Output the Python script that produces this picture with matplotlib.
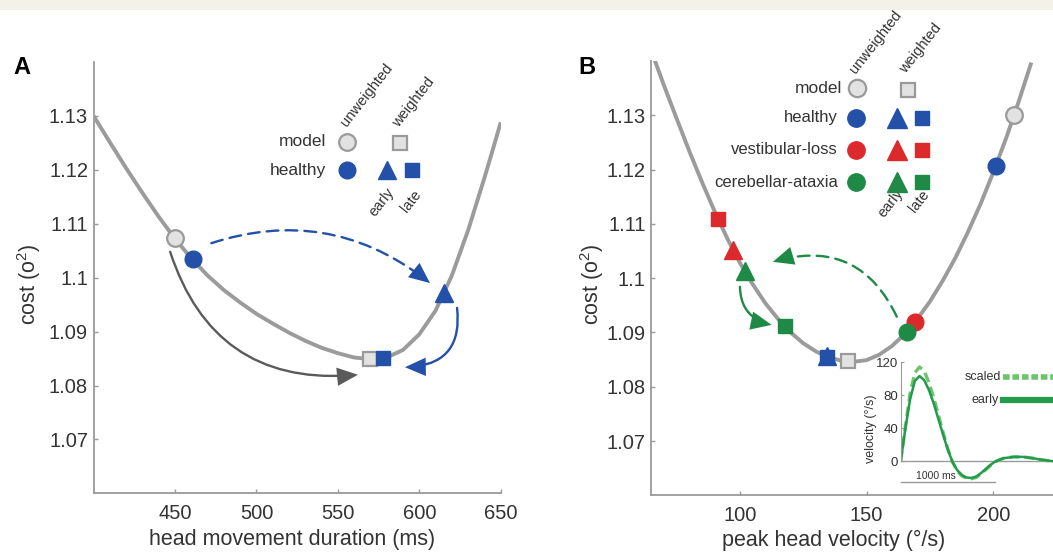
"""Cost curves for head movement duration and peak head velocity"""

import matplotlib
matplotlib.use("Agg")
import matplotlib.pyplot as plt
from matplotlib.patches import Rectangle

plt.rcParams["font.family"] = ["Liberation Sans", "DejaVu Sans"]
plt.rcParams["mathtext.fontset"] = "custom"
plt.rcParams["mathtext.rm"] = "Liberation Sans"

# panel A: model cost against head movement duration
duration_ms = [400, 410, 420, 430, 440, 450, 460, 470, 480, 490, 500, 510,
               520, 530, 540, 550, 560, 570, 580, 590, 600, 610, 620, 630,
               640, 645, 650]
cost_a = [1.1300, 1.1251, 1.1203, 1.1157, 1.1113, 1.1072, 1.1036, 1.1004,
          1.0977, 1.0954, 1.0933, 1.0915, 1.0898, 1.0883, 1.0870, 1.0860,
          1.0852, 1.0849, 1.0852, 1.0866, 1.0895, 1.0939, 1.1004, 1.1088,
          1.1185, 1.1236, 1.1288]

# panel A points (duration, cost)
a_model_unweighted = (450, 1.1074)
a_model_weighted = (570, 1.0849)
a_healthy_unweighted = (461, 1.1034)
a_healthy_early = (615, 1.0972)
a_healthy_late = (578, 1.0851)

# panel B: model cost against peak head velocity
peak_velocity = [66, 70, 75, 80, 85, 90, 95, 100, 105, 110, 115, 120, 125,
                 130, 135, 140, 145, 150, 155, 160, 165, 170, 175, 180, 185,
                 190, 195, 200, 205, 210, 215]
cost_b = [1.1406, 1.1355, 1.1294, 1.1234, 1.1177, 1.1123, 1.1073, 1.1028,
          1.0989, 1.0954, 1.0925, 1.0900, 1.0880, 1.0865, 1.0854, 1.0848,
          1.0846, 1.0849, 1.0859, 1.0875, 1.0897, 1.0925, 1.0957, 1.0995,
          1.1037, 1.1085, 1.1137, 1.1195, 1.1257, 1.1325, 1.1397]

# panel B points (velocity, cost)
b_model_unweighted = (208.3, 1.1300)
b_model_weighted = (142.8, 1.0847)
b_healthy = {"unweighted": (201.1, 1.1207), "early": (134.2, 1.0857),
             "late": (134.5, 1.0854)}
b_vestibular = {"unweighted": (169.1, 1.0919), "early": (97.4, 1.1051),
                "late": (91.4, 1.1108)}
b_cerebellar = {"unweighted": (165.8, 1.0901), "early": (102.0, 1.1014),
                "late": (117.8, 1.0911)}

# inset: head velocity profile of cerebellar-ataxia group
time_ms = [0, 50, 100, 150, 200, 250, 300, 350, 400, 450, 500, 550, 600,
           650, 700, 750, 800, 850, 900, 950, 1000, 1050, 1100, 1200, 1300,
           1400, 1500, 1600, 1700]
velocity_early = [0, 40, 75, 97, 103, 98, 86, 70, 51, 32, 14, -1, -11, -17,
                  -20, -20.5, -19, -15, -10, -5, -1, 1.5, 3.5, 5, 5, 3.5,
                  1.5, 0, -0.5]
velocity_scaled = [0, 42, 82, 107, 114, 109, 95, 77, 56, 35, 15, -1, -12,
                   -18, -21, -21.5, -20, -16, -11, -6, -1, 1.5, 3.5, 5, 5,
                   3.5, 1.5, 0, -0.5]

# arrows: (start, end, curvature, colour, line style)
arrows_a = [((472.3, 1.1064), (606.6, 1.0990), -0.27, "#2350a8", "--"),
            ((623.2, 1.0944), (591.2, 1.0834), -0.55, "#2350a8", "-"),
            ((447.0, 1.1048), (562.3, 1.0820), 0.40, "#5a5a5a", "-")]
arrows_b = [((161.9, 1.0929), (113.0, 1.1030), 0.43, "#1f8a45", "--"),
            ((100.0, 1.0984), (112.5, 1.0914), 0.40, "#1f8a45", "-")]

BLUE = "#2350a8"
RED = "#dc2a2c"
GREEN = "#1f8a45"
CURVE = "#9b9b9b"
AXIS = "#9a9a9a"
TEXT = "#333333"
TICKS = ["1.07", "1.08", "1.09", "1.1", "1.11", "1.12", "1.13"]


def style_axes(ax):
    """Gray left/bottom spines with inward ticks"""
    for side in ["top", "right"]:
        ax.spines[side].set_visible(False)
    for side in ["left", "bottom"]:
        ax.spines[side].set_color(AXIS)
        ax.spines[side].set_linewidth(1.3)
    ax.tick_params(direction="in", length=3, width=1, color=AXIS,
                   labelsize=14.5, labelcolor=TEXT)
    ax.tick_params(axis="x", pad=8)
    ax.tick_params(axis="y", pad=4)
    ax.patch.set_alpha(0)


def draw_arrows(ax, arrows):
    """Curved arrows with a solid head"""
    for start, end, rad, color, ls in arrows:
        conn = f"arc3,rad={rad}"
        style = "-" if ls == "-" else (0, (5, 3))
        ax.annotate("", xy=end, xytext=start,
                    arrowprops=dict(arrowstyle="-", connectionstyle=conn,
                                    color=color, lw=1.7, linestyle=style,
                                    shrinkA=0, shrinkB=7),
                    zorder=4)
        ax.annotate("", xy=end, xytext=start,
                    arrowprops=dict(arrowstyle="-|>,head_length=0.75,head_width=0.33",
                                    connectionstyle=conn, color=color, lw=0,
                                    shrinkA=0, shrinkB=0, mutation_scale=20),
                    zorder=4)


def gray_marker(ax, point, marker, size):
    ax.plot(*point, marker=marker, ms=size, mfc="#e2e2e2", mec="#9a9a9a",
            mew=1.6, zorder=5, clip_on=False)


def color_marker(ax, point, marker, size, color):
    ax.plot(*point, marker=marker, ms=size, mfc=color, mec=color,
            mew=1, zorder=5, clip_on=False)


def draw_panel_a(fig):
    ax = fig.add_axes([0.0889, 0.1078, 0.3866, 0.7801])
    style_axes(ax)
    ax.plot(duration_ms, cost_a, color=CURVE, lw=2.8, zorder=2,
            solid_capstyle="butt")
    ax.set_xlim(400, 650)
    ax.set_ylim(1.06, 1.14)
    ax.set_xticks([450, 500, 550, 600, 650])
    ax.set_yticks([1.07, 1.08, 1.09, 1.1, 1.11, 1.12, 1.13])
    ax.set_yticklabels(TICKS)

    draw_arrows(ax, arrows_a)
    gray_marker(ax, a_model_unweighted, "o", 12)
    gray_marker(ax, a_model_weighted, "s", 9.5)
    color_marker(ax, a_healthy_unweighted, "o", 12, BLUE)
    color_marker(ax, a_healthy_early, "^", 13.5, BLUE)
    color_marker(ax, a_healthy_late, "s", 9.5, BLUE)

    # legend
    ax.text(543.1, 1.1252, "model", fontsize=12.5, color=TEXT, ha="right", va="center")
    ax.text(542.7, 1.1199, "healthy", fontsize=12.5, color=TEXT, ha="right", va="center")
    gray_marker(ax, (555.8, 1.1252), "o", 12)
    gray_marker(ax, (588.1, 1.1249), "s", 9.5)
    color_marker(ax, (555.8, 1.1199), "o", 12, BLUE)
    color_marker(ax, (580.3, 1.1200), "^", 13.5, BLUE)
    color_marker(ax, (595.7, 1.1199), "s", 9.5, BLUE)
    for x, y, label in [(556.8, 1.1276, "unweighted"), (588.7, 1.1274, "weighted")]:
        ax.text(x, y, label, fontsize=10.5, color=TEXT, rotation=52,
                rotation_mode="anchor", ha="left", va="bottom")
    for x, y, label in [(583.0, 1.1163, "early"), (599.2, 1.1159, "late")]:
        ax.text(x, y, label, fontsize=10.5, color=TEXT, rotation=52,
                rotation_mode="anchor", ha="right", va="center")

    ax.set_xlabel("head movement duration (ms)", fontsize=15.5, color=TEXT, va="top")
    ax.xaxis.set_label_coords(0.487, -0.083)
    ax.set_ylabel(r"cost (o$^{2}$)", fontsize=15.5, color=TEXT)
    ax.yaxis.set_label_coords(-0.125, 0.485)


def draw_panel_b(fig):
    ax = fig.add_axes([0.6185, 0.1043, 0.3970, 0.7855])
    style_axes(ax)
    ax.plot(peak_velocity, cost_b, color=CURVE, lw=2.8, zorder=2,
            solid_capstyle="butt")
    ax.set_xlim(65, 230)
    ax.set_ylim(1.06, 1.14)
    ax.set_xticks([100, 150, 200])
    ax.set_yticks([1.07, 1.08, 1.09, 1.1, 1.11, 1.12, 1.13])
    ax.set_yticklabels(TICKS)

    draw_arrows(ax, arrows_b)
    gray_marker(ax, b_model_unweighted, "o", 12)
    gray_marker(ax, b_model_weighted, "s", 9.5)
    groups = [(b_vestibular, RED), (b_healthy, BLUE), (b_cerebellar, GREEN)]
    for group, color in groups:
        color_marker(ax, group["late"], "s", 9.5, color)
    for group, color in groups:
        color_marker(ax, group["early"], "^", 13.5, color)
        color_marker(ax, group["unweighted"], "o", 12, color)

    # legend
    ax.text(140.3, 1.1350, "model", fontsize=12.5, color=TEXT, ha="right", va="center")
    gray_marker(ax, (146.1, 1.1350), "o", 12.5)
    gray_marker(ax, (166.4, 1.1346), "s", 10)
    rows = [("healthy", BLUE, 1.1295), ("vestibular-loss", RED, 1.1236),
            ("cerebellar-ataxia", GREEN, 1.1177)]
    for label, color, y in rows:
        ax.text(138.7, y, label, fontsize=12, color=TEXT, ha="right", va="center")
        color_marker(ax, (145.8, y), "o", 12.5, color)
        color_marker(ax, (162.0, y), "^", 14, color)
        color_marker(ax, (171.9, y), "s", 10, color)
    for x, y, label in [(146.6, 1.1372, "unweighted"), (166.3, 1.1372, "weighted")]:
        ax.text(x, y, label, fontsize=10.5, color=TEXT, rotation=52,
                rotation_mode="anchor", ha="left", va="bottom")
    for x, y, label in [(163.2, 1.1162, "early"), (173.8, 1.1159, "late")]:
        ax.text(x, y, label, fontsize=10.5, color=TEXT, rotation=52,
                rotation_mode="anchor", ha="right", va="center")

    ax.set_xlabel("peak head velocity (°/s)", fontsize=15.5, color=TEXT, va="top")
    ax.xaxis.set_label_coords(0.437, -0.08)
    ax.set_ylabel(r"cost (o$^{2}$)", fontsize=15.5, color=TEXT)
    ax.yaxis.set_label_coords(-0.108, 0.486)


def draw_inset(fig):
    ax = fig.add_axes([0.8554, 0.1186, 0.1518, 0.2297])
    ax.patch.set_alpha(0)
    ax.set_xlim(0, 1700)
    ax.set_ylim(-32, 122)
    for side in ["top", "right", "bottom"]:
        ax.spines[side].set_visible(False)
    ax.spines["left"].set_color(AXIS)
    ax.spines["left"].set_bounds(0, 120)
    ax.set_xticks([])
    ax.set_yticks([0, 40, 80, 120])
    ax.tick_params(axis="y", direction="in", length=2.5, color=AXIS,
                   labelsize=9.5, labelcolor=TEXT, pad=2)
    ax.axhline(0, color=AXIS, lw=1)

    ax.plot(time_ms, velocity_scaled, color="#6cc46c", lw=2.4, ls=(0, (3, 1.5)))
    ax.plot(time_ms, velocity_early, color="#239a4c", lw=1.8)

    # scale bar
    ax.plot([0, 1000], [-25, -25], color=AXIS, lw=1, clip_on=False)
    ax.text(375, -18, "1000 ms", fontsize=7.5, color=TEXT, ha="center", va="center")

    # legend
    ax.plot([1090, 1800], [102, 102], color="#6cc46c", lw=4, ls=(0, (1.2, 0.5)))
    ax.plot([1090, 1800], [74, 74], color="#239a4c", lw=4.5)
    ax.text(1070, 102, "scaled", fontsize=9, color=TEXT, ha="right", va="center")
    ax.text(1038, 74, "early", fontsize=9, color=TEXT, ha="right", va="center")

    ax.set_ylabel("velocity (°/s)", fontsize=9, color=TEXT)
    ax.yaxis.set_label_coords(-0.15, 0.46)


fig = plt.figure(figsize=(10.53, 5.53), dpi=100)
fig.add_artist(Rectangle((0, 1 - 10 / 553), 1, 10 / 553, transform=fig.transFigure,
                         facecolor="#f4f1e8", edgecolor="none", zorder=0))
draw_panel_a(fig)
draw_panel_b(fig)
draw_inset(fig)
fig.text(22 / 1053, 1 - 67 / 553, "A", fontsize=17, fontweight="bold",
         ha="center", va="center")
fig.text(587 / 1053, 1 - 67 / 553, "B", fontsize=17, fontweight="bold",
         ha="center", va="center")

fig.savefig("out.png", dpi=100)
